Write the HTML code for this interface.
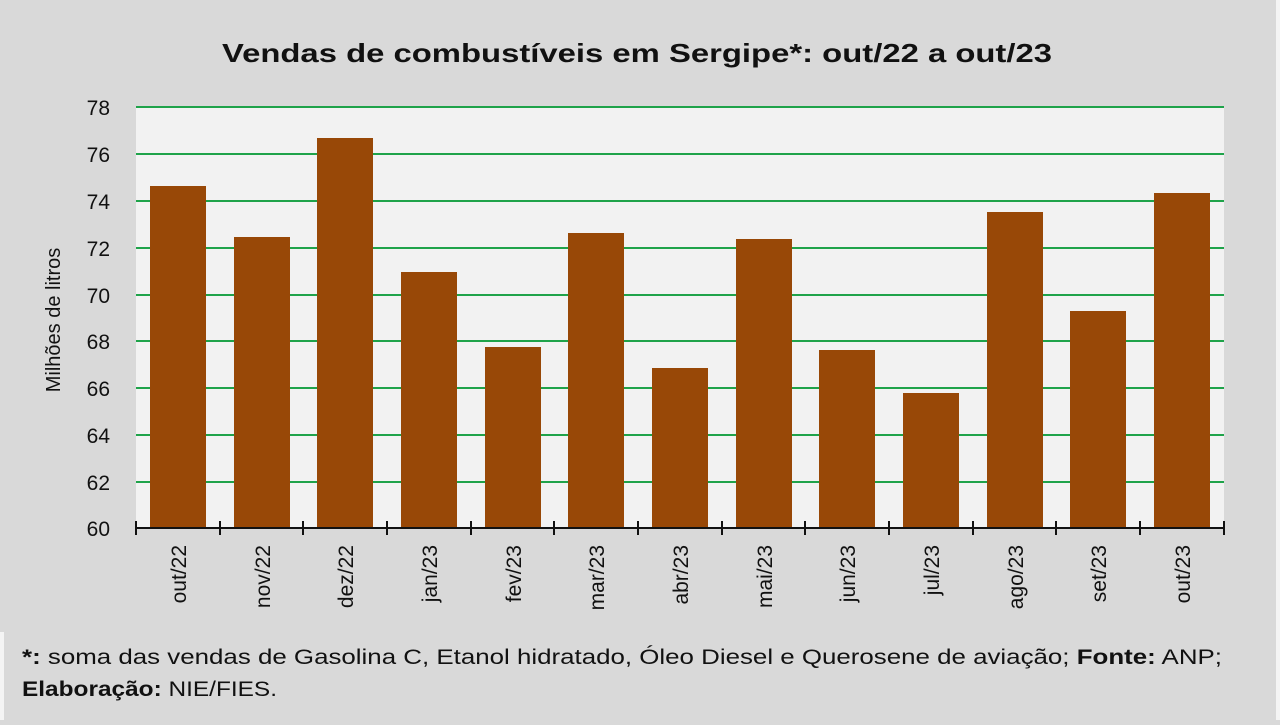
<!DOCTYPE html>
<html><head><meta charset="utf-8"><style>
body{margin:0;width:1280px;height:720px;background:#d9d9d9;font-family:"Liberation Sans","DejaVu Sans",sans-serif;overflow:hidden}
</style></head><body>
<svg width="1280" height="720" xmlns="http://www.w3.org/2000/svg" font-family="Liberation Sans, DejaVu Sans, sans-serif">
<rect x="0" y="0" width="1280" height="720" fill="#d9d9d9"/>
<rect x="1276" y="0" width="4" height="720" fill="#f4f4f4"/>
<rect x="0" y="632" width="4" height="88" fill="#f4f4f4"/>
<text x="222" y="62" font-size="26" font-weight="bold" fill="#111" textLength="830" lengthAdjust="spacingAndGlyphs">Vendas de combustíveis em Sergipe*: out/22 a out/23</text>
<rect x="136" y="107" width="1088" height="421" fill="#f2f2f2"/>
<g stroke="#1fa34a" stroke-width="2">
<line x1="136" x2="1224" y1="107" y2="107"/><line x1="136" x2="1224" y1="154" y2="154"/>
<line x1="136" x2="1224" y1="201" y2="201"/><line x1="136" x2="1224" y1="248" y2="248"/>
<line x1="136" x2="1224" y1="295" y2="295"/><line x1="136" x2="1224" y1="341" y2="341"/>
<line x1="136" x2="1224" y1="388" y2="388"/><line x1="136" x2="1224" y1="435" y2="435"/>
<line x1="136" x2="1224" y1="482" y2="482"/>
</g>
<g font-size="21" fill="#111" text-anchor="end">
<text x="110" y="115">78</text><text x="110" y="162">76</text><text x="110" y="209">74</text>
<text x="110" y="256">72</text><text x="110" y="303">70</text><text x="110" y="349">68</text>
<text x="110" y="396">66</text><text x="110" y="443">64</text><text x="110" y="490">62</text>
<text x="110" y="536">60</text>
</g>
<text transform="translate(60,320) rotate(-90)" text-anchor="middle" font-size="20" fill="#111">Milhões de litros</text>
<g fill="#984807">
<rect x="150" y="186" width="56" height="342"/>
<rect x="234" y="237" width="56" height="291"/>
<rect x="317" y="138" width="56" height="390"/>
<rect x="401" y="272" width="56" height="256"/>
<rect x="485" y="347" width="56" height="181"/>
<rect x="568" y="233" width="56" height="295"/>
<rect x="652" y="368" width="56" height="160"/>
<rect x="736" y="239" width="56" height="289"/>
<rect x="819" y="350" width="56" height="178"/>
<rect x="903" y="393" width="56" height="135"/>
<rect x="987" y="212" width="56" height="316"/>
<rect x="1070" y="311" width="56" height="217"/>
<rect x="1154" y="193" width="56" height="335"/>
</g>
<line x1="136" x2="1224" y1="528" y2="528" stroke="#111" stroke-width="2"/>
<g stroke="#111" stroke-width="2">
<line x1="136" x2="136" y1="521" y2="535"/><line x1="220" x2="220" y1="521" y2="535"/>
<line x1="303" x2="303" y1="521" y2="535"/><line x1="387" x2="387" y1="521" y2="535"/>
<line x1="471" x2="471" y1="521" y2="535"/><line x1="554" x2="554" y1="521" y2="535"/>
<line x1="638" x2="638" y1="521" y2="535"/><line x1="722" x2="722" y1="521" y2="535"/>
<line x1="805" x2="805" y1="521" y2="535"/><line x1="889" x2="889" y1="521" y2="535"/>
<line x1="973" x2="973" y1="521" y2="535"/><line x1="1056" x2="1056" y1="521" y2="535"/>
<line x1="1140" x2="1140" y1="521" y2="535"/><line x1="1224" x2="1224" y1="521" y2="535"/>
</g>
<g font-size="21" fill="#111" text-anchor="end">
<text transform="translate(186,545) rotate(-90)">out/22</text>
<text transform="translate(270,545) rotate(-90)">nov/22</text>
<text transform="translate(353,545) rotate(-90)">dez/22</text>
<text transform="translate(437,545) rotate(-90)">jan/23</text>
<text transform="translate(521,545) rotate(-90)">fev/23</text>
<text transform="translate(604,545) rotate(-90)">mar/23</text>
<text transform="translate(688,545) rotate(-90)">abr/23</text>
<text transform="translate(772,545) rotate(-90)">mai/23</text>
<text transform="translate(855,545) rotate(-90)">jun/23</text>
<text transform="translate(939,545) rotate(-90)">jul/23</text>
<text transform="translate(1023,545) rotate(-90)">ago/23</text>
<text transform="translate(1106,545) rotate(-90)">set/23</text>
<text transform="translate(1190,545) rotate(-90)">out/23</text>
</g>
<g font-size="21" fill="#111">
<text x="22" y="664" textLength="1200" lengthAdjust="spacingAndGlyphs"><tspan font-weight="bold">*:</tspan> soma das vendas de Gasolina C, Etanol hidratado, Óleo Diesel e Querosene de aviação; <tspan font-weight="bold">Fonte:</tspan> ANP;</text>
<text x="22" y="696" textLength="255" lengthAdjust="spacingAndGlyphs"><tspan font-weight="bold">Elaboração:</tspan> NIE/FIES.</text>
</g>
</svg>
</body></html>
